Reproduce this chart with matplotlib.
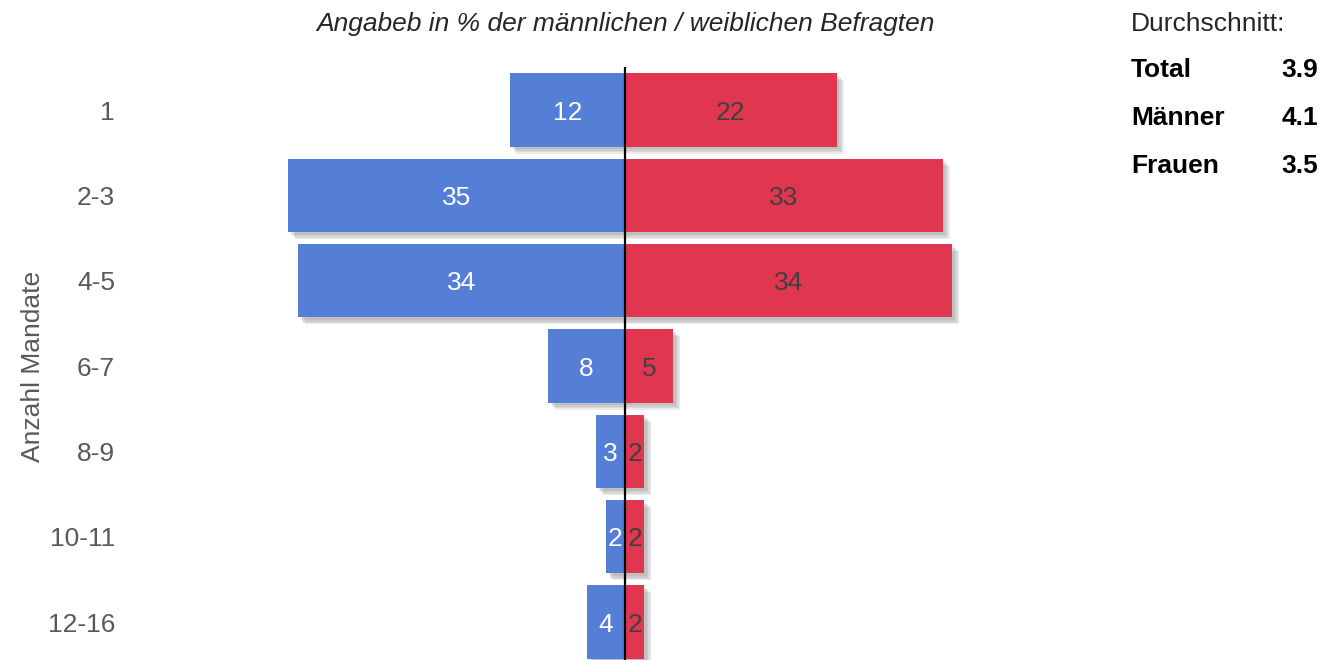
import numpy as np
import matplotlib.pyplot as plt
import matplotlib.patheffects as pe

plt.rcParams['font.family'] = ['Liberation Sans', 'DejaVu Sans']

# Daten
kategorien = ['1', '2-3', '4-5', '6-7', '8-9', '10-11', '12-16']
maenner = [12, 35, 34, 8, 3, 2, 4]
frauen = [22, 33, 34, 5, 2, 2, 2]
schnitt_namen = ['Total', 'Männer', 'Frauen']
schnitt_werte = ['3.9', '4.1', '3.5']

blau = '#557ed7'
rot = '#e0364f'
fs = 19

fig = plt.figure(figsize=(13.31, 6.6), dpi=100)
# Achse in Pixeln: links 140, rechts 1110, oben 67, unten 660
ax = fig.add_axes([140 / 1331, 0, 970 / 1331, (660 - 67) / 660])

y = np.arange(len(kategorien))
# weicher Schatten aus mehreren Lagen
schatten = [pe.SimplePatchShadow(offset=(o, -o), shadow_rgbFace='#777777', alpha=0.14)
            for o in (5, 4, 3, 2)] + [pe.Normal()]

ax.barh(y, [-v for v in maenner], height=0.86, color=blau, path_effects=schatten)
ax.barh(y, frauen, height=0.86, color=rot, path_effects=schatten)

for i, v in enumerate(maenner):
    ax.text(-v / 2, i, str(v), ha='center', va='center_baseline', color='white', fontsize=fs)
for i, v in enumerate(frauen):
    ax.text(v / 2, i, str(v), ha='center', va='center_baseline', color='#404040', fontsize=fs)

ax.axvline(0, color='black', lw=1.6, zorder=5)

ax.set_xlim(-50.4, 50.4)
ax.set_ylim(6.445, -0.504)
ax.set_yticks(y)
ax.set_yticklabels(kategorien, fontsize=fs, color='#595959')
ax.tick_params(axis='y', length=0, pad=18)
ax.set_xticks([])
for s in ax.spines.values():
    s.set_visible(False)

fig.text(33 / 1331, 1 - 366 / 660, 'Anzahl Mandate', rotation=90, ha='center', va='center',
         fontsize=fs, color='#595959')
fig.text(625 / 1331, 1 - 24 / 660, 'Angabeb in % der männlichen / weiblichen Befragten',
         ha='center', va='center', fontsize=fs, style='italic', color='#262626')

fig.text(1131 / 1331, 1 - 24 / 660, 'Durchschnitt:', ha='left', va='center', fontsize=fs, color='#262626')
for k, (n, w) in enumerate(zip(schnitt_namen, schnitt_werte)):
    yy = 1 - (70 + 48 * k) / 660
    fig.text(1131 / 1331, yy, n, ha='left', va='center', fontsize=fs, fontweight='bold', color='black')
    fig.text(1318 / 1331, yy, w, ha='right', va='center', fontsize=fs, fontweight='bold', color='black')

fig.savefig('out.png', dpi=100)
